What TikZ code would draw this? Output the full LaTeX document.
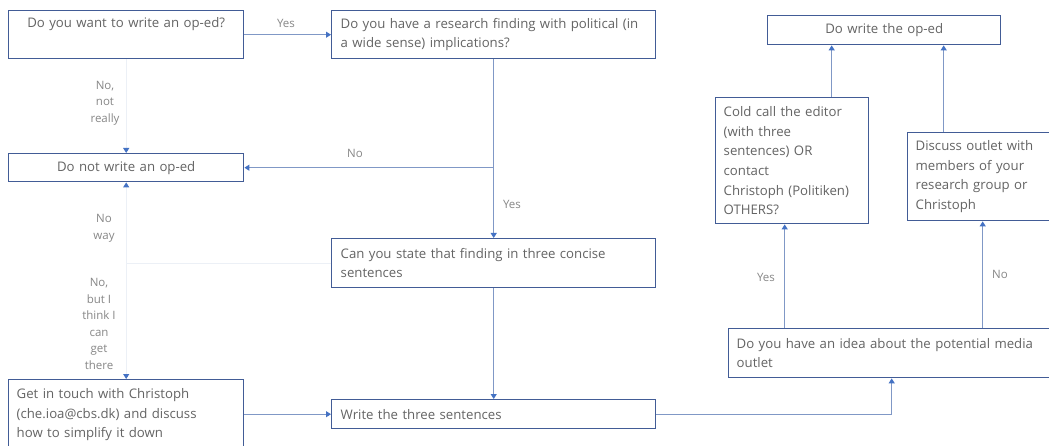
\documentclass[tikz,border=0pt]{standalone}
\usepackage{fontspec}
\setmainfont{Open Sans}
\usetikzlibrary{arrows.meta,calc}
\definecolor{boxblue}{RGB}{66,92,150}
\definecolor{lineblue}{RGB}{128,152,198}
\definecolor{tipblue}{RGB}{68,114,196}
\definecolor{faintline}{RGB}{236,240,246}
\definecolor{txtgray}{RGB}{100,100,100}
\definecolor{lblgray}{RGB}{135,135,135}
\begin{document}
\begin{tikzpicture}[x=1pt,y=-1pt,
  box/.style={draw=boxblue,line width=1.4pt,fill=white,anchor=north west,inner xsep=8pt,inner ysep=0pt,
    font=\fontsize{13.2}{19.6}\selectfont,text=txtgray},
  conn/.style={draw=lineblue,line width=1pt,-{Triangle[width=6pt,length=5pt,color=tipblue]}},
  fconn/.style={draw=faintline,line width=1pt,-{Triangle[width=6pt,length=5pt,color=tipblue]}},
  fline/.style={draw=faintline,line width=1pt},
  lbl/.style={font=\fontsize{11.5}{16.5}\selectfont,text=lblgray,align=center,inner sep=0pt}]
\useasboundingbox (0,0) rectangle (1049,446);
\fill[white] (0,0) rectangle (1049,446);

% boxes
\node[box,minimum width=235pt,minimum height=48pt,text width=219pt,align=center] (b1) at (8,10)
  {\raisebox{-4pt}{Do you want to write an op-ed?}\\ \strut};
\node[box,minimum width=324pt,minimum height=48pt,text width=306pt,align=left,inner xsep=9pt] (b2) at (331,10)
  {Do you have a research finding with political (in\\a wide sense) implications?};
\node[box,minimum width=235pt,minimum height=28pt,text width=219pt,align=center] (donot) at (8,153)
  {Do not write an op-ed};
\node[box,minimum width=324pt,minimum height=49pt,text width=306pt,align=left,inner xsep=9pt] (can) at (331,238)
  {Can you state that finding in three concise\\sentences};
\node[box,minimum width=235pt,minimum height=70pt,text width=219pt,align=left] (git) at (8,379)
  {Get in touch with Christoph\\(che.ioa@cbs.dk) and discuss\\how to simplify it down};
\node[box,minimum width=324pt,minimum height=29pt,text width=306pt,align=left,inner xsep=9pt] (write) at (331,399)
  {Write the three sentences};
\node[box,minimum width=326pt,minimum height=49pt,text width=310pt,align=left] (idea) at (728,328)
  {Do you have an idea about the potential media\\outlet};
\node[box,minimum width=153pt,minimum height=126pt,text width=137pt,align=left] (cold) at (715,97)
  {Cold call the editor\\(with three\\sentences) OR\\contact\\Christoph (Politiken)\\OTHERS?};
\node[box,minimum width=150pt,minimum height=88pt,text width=134pt,align=left] (disc) at (907,132)
  {Discuss outlet with\\members of your\\research group or\\Christoph};
\node[box,minimum width=233pt,minimum height=29pt,text width=217pt,align=center] (dowrite) at (767,15)
  {Do write the op-ed};

% connectors
\draw[conn] (b1.east) -- (b1.east -| b2.west);
\node[lbl] (lyes1) at (286,23) {Yes};

\draw[conn] (b2.south) -- (can.north);
\node[lbl] (lyes2) at (512,204) {Yes};
\draw[conn] (b2.south |- donot.east) -- (donot.east);
\node[lbl] (lno1) at (355,153) {No};

\draw[fconn] (b1.south) -- (donot.north);
\node[lbl] (lno2) at (105,103) {No,\\not\\really};

\coordinate (j) at (donot.south |- can.west);
\draw[fline] (can.west) -- (j);
\draw[fconn] (j) -- (donot.south);
\draw[fconn] (j) -- (git.north);
\node[lbl] (lno3) at (104,228.5) {No\\way};
\node[lbl] (lno4) at (99,324) {No,\\but I\\think I\\can\\get\\there};

\draw[conn] (git.east |- write.west) -- (write.west);
\draw[conn] (can.south) -- (write.north);
\draw[conn] (write.east) -| (idea.south);

\draw[conn] ([xshift=-7.5pt]cold.south |- idea.north) -- ([xshift=-7.5pt]cold.south);
\node[lbl] (lyes3) at (766,277) {Yes};
\draw[conn] (disc.south |- idea.north) -- (disc.south);
\node[lbl] (lno5) at (1000,274) {No};

\draw[conn] ([xshift=39.5pt]cold.north) -- ([xshift=39.5pt]cold.north |- dowrite.south);
\draw[conn] ([xshift=-39pt]disc.north) -- ([xshift=-39pt]disc.north |- dowrite.south);
\end{tikzpicture}
\end{document}
